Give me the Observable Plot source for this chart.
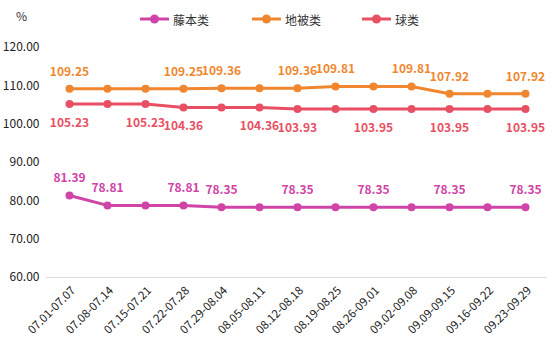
<!DOCTYPE html>
<html><head><meta charset="utf-8">
<script src="https://cdn.jsdelivr.net/npm/d3@7"></script>
<script src="https://cdn.jsdelivr.net/npm/@observablehq/plot@0.6"></script>
<style>
body{margin:0;background:#fff;font-family:"Noto Sans CJK SC","Noto Sans",sans-serif;}
#wrap{position:relative;width:554px;height:352px;}
#unit{position:absolute;left:16px;top:7px;font-size:12px;color:#333;}
#legend{position:absolute;top:10px;left:0;width:554px;height:20px;font-size:12px;color:#333;}
.li{position:absolute;display:flex;align-items:center;}
.li span{margin-left:4px;}
</style></head>
<body><div id="wrap"><div id="unit">%</div><div id="legend"></div></div>
<script>
const weeks = ["07.01-07.07","07.08-07.14","07.15-07.21","07.22-07.28","07.29-08.04","08.05-08.11","08.12-08.18","08.19-08.25","08.26-09.01","09.02-09.08","09.09-09.15","09.16-09.22","09.23-09.29"];
const seriesNames = ["藤本类","地被类","球类"];
const vine = [81.39,78.81,78.81,78.81,78.35,78.35,78.35,78.35,78.35,78.35,78.35,78.35,78.35];
const ground = [109.25,109.25,109.25,109.25,109.36,109.36,109.36,109.81,109.81,109.81,107.92,107.92,107.92];
const ball = [105.23,105.23,105.23,104.36,104.36,104.36,103.93,103.95,103.95,103.95,103.95,103.95,103.95];
const vineLabelIdx = [0,1,3,4,6,8,10,12];
const groundLabelIdx = [0,3,4,6,7,9,10,12];
const ballLabelIdx = [0,2,3,5,6,8,10,12];
const yTicks = [60,70,80,90,100,110,120];
const colors = ["#d044a8","#f0862f","#e94f63"];

const values = [vine, ground, ball];
const labelIdx = [vineLabelIdx, groundLabelIdx, ballLabelIdx];
const data = [];
seriesNames.forEach((s,si)=>values[si].forEach((v,i)=>data.push({series:s, week:weeks[i], value:v, i, show:labelIdx[si].includes(i)})));

const font = '"Noto Sans CJK SC","Noto Sans",sans-serif';
const plot = Plot.plot({
  width:554, height:352,
  marginLeft:46, marginRight:7, marginTop:47, marginBottom:75,
  style:{fontFamily:font, fontSize:"12px", color:"#333", background:"#fff"},
  x:{type:"point", domain:weeks, padding:0.5, axis:null},
  y:{domain:[60,120]},
  color:{domain:seriesNames, range:colors},
  marks:[
    Plot.ruleY([60], {stroke:"#dcdcdc", strokeWidth:1}),
    Plot.axisY({ticks:yTicks, tickFormat:d=>d.toFixed(2), tickSize:0, tickPadding:7, fontSize:12, fill:"#222", label:null}),
    Plot.text(weeks, {x:d=>d, frameAnchor:"bottom", dx:4, dy:11, rotate:-45, textAnchor:"end", lineAnchor:"middle", fontSize:11.5, fill:"#222"}),
    Plot.line(data, {x:"week", y:"value", z:"series", stroke:"series", strokeWidth:3}),
    Plot.dot(data, {x:"week", y:"value", fill:"series", r:4}),
    Plot.text(data.filter(d=>d.show && d.series!=="球类"), {x:"week", y:"value", text:d=>d.value.toFixed(2), fill:"series", dy:-17, fontSize:12, fontWeight:"bold"}),
    Plot.text(data.filter(d=>d.show && d.series==="球类"), {x:"week", y:"value", text:d=>d.value.toFixed(2), fill:"series", dy:19, fontSize:12, fontWeight:"bold"})
  ]
});
const wrap = document.getElementById("wrap");
wrap.insertBefore(plot, wrap.firstChild);

const legend = document.getElementById("legend");
const lx = [140,252,362];
seriesNames.forEach((s,i)=>{
  const d = document.createElement("div");
  d.className="li"; d.style.left=lx[i]+"px"; d.style.top="0px";
  d.innerHTML = `<svg width="29" height="18"><line x1="1" y1="9" x2="28" y2="9" stroke="${colors[i]}" stroke-width="3" stroke-linecap="round"/><circle cx="14.5" cy="9" r="4.5" fill="${colors[i]}"/></svg><span>${s}</span>`;
  legend.appendChild(d);
});
plot.style.position="absolute"; plot.style.left="0"; plot.style.top="0";
</script></body></html>
